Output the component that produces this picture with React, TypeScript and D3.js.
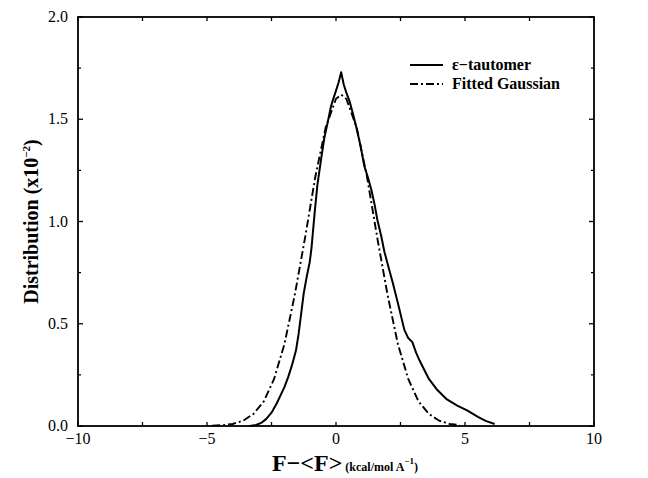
import React from "react";
import * as d3 from "d3";

// ε-tautomer distribution (x10^-2) vs F-<F>
const tautomerF = [-3.35, -3.1, -2.9, -2.7, -2.5, -2.3, -2.15, -2.0, -1.85, -1.7, -1.55, -1.45, -1.35, -1.25, -1.12, -1.02, -0.95, -0.83, -0.72, -0.56, -0.45, -0.33, -0.2, -0.13, 0.0, 0.1, 0.2, 0.3, 0.4, 0.52, 0.65, 0.79, 0.95, 1.1, 1.25, 1.38, 1.5, 1.6, 1.75, 1.88, 2.05, 2.2, 2.4, 2.65, 2.8, 2.96, 3.1, 3.24, 3.4, 3.6, 3.9, 4.3, 4.7, 5.1, 5.5, 5.8, 6.15];
const tautomerV = [0.0, 0.005, 0.015, 0.035, 0.065, 0.11, 0.15, 0.19, 0.24, 0.3, 0.37, 0.45, 0.55, 0.65, 0.74, 0.8, 0.87, 1.04, 1.18, 1.32, 1.41, 1.48, 1.56, 1.59, 1.64, 1.68, 1.73, 1.67, 1.63, 1.59, 1.53, 1.46, 1.37, 1.27, 1.21, 1.15, 1.08, 1.01, 0.93, 0.85, 0.77, 0.70, 0.6, 0.47, 0.43, 0.41, 0.36, 0.32, 0.28, 0.23, 0.18, 0.13, 0.1, 0.075, 0.045, 0.025, 0.01];

// Fitted Gaussian
const gaussF = [-4.8, -4.4, -4.0, -3.6, -3.2, -2.8, -2.4, -2.0, -1.6, -1.2, -0.8, -0.4, 0.0, 0.2, 0.4, 0.8, 1.2, 1.6, 2.0, 2.4, 2.8, 3.2, 3.6, 4.0, 4.4, 4.8];
const gaussV = [0.001, 0.004, 0.010, 0.026, 0.059, 0.12, 0.23, 0.40, 0.64, 0.92, 1.22, 1.46, 1.60, 1.62, 1.60, 1.46, 1.22, 0.92, 0.64, 0.40, 0.23, 0.12, 0.059, 0.026, 0.010, 0.004];

const xMajor = [-10, -5, 0, 5, 10];
const xMinor = [-7.5, -2.5, 2.5, 7.5];
const yMajor = [0, 0.5, 1.0, 1.5, 2.0];
const yMinor = [0.25, 0.75, 1.25, 1.75];
const legendLabels = ["\u03b5\u2212tautomer", "Fitted Gaussian"];

const FONT = "'Liberation Serif', 'DejaVu Serif', serif";

export default function App() {
  const left = 78, right = 594, top = 17, bottom = 426;
  const x = d3.scaleLinear().domain([-10, 10]).range([left, right]);
  const y = d3.scaleLinear().domain([0, 2]).range([bottom, top]);
  const line = d3.line<[number, number]>().x(d => x(d[0])).y(d => y(d[1])).curve(d3.curveLinear);
  const solid = tautomerF.map((f, i) => [f, tautomerV[i]] as [number, number]);
  const dashed = gaussF.map((f, i) => [f, gaussV[i]] as [number, number]);

  return (
    <svg width={648} height={478} style={{ position: "absolute", left: 0, top: 0, background: "#fff" }}>
      <rect x={0} y={0} width={648} height={478} fill="#fff" />
      {/* curves */}
      <path d={line(dashed) || ""} fill="none" stroke="#000" strokeWidth={1.9} strokeDasharray="8,3,2,3" />
      <path d={line(solid) || ""} fill="none" stroke="#000" strokeWidth={2} strokeLinejoin="round" />
      {/* frame */}
      <rect x={left} y={top} width={right - left} height={bottom - top} fill="none" stroke="#000" strokeWidth={1.8} />
      {/* x ticks */}
      {xMajor.concat(xMinor).map((v, i) => (
        <g key={"xt" + i}>
          <line x1={x(v)} x2={x(v)} y1={bottom} y2={bottom - 4} stroke="#000" strokeWidth={1.3} />
          <line x1={x(v)} x2={x(v)} y1={top} y2={top + 4} stroke="#000" strokeWidth={1.3} />
        </g>
      ))}
      {/* y ticks */}
      {yMajor.map((v, i) => (
        <g key={"yt" + i}>
          <line x1={left} x2={left + 5} y1={y(v)} y2={y(v)} stroke="#000" strokeWidth={1.3} />
          <line x1={right} x2={right - 5} y1={y(v)} y2={y(v)} stroke="#000" strokeWidth={1.3} />
        </g>
      ))}
      {yMinor.map((v, i) => (
        <g key={"ym" + i}>
          <line x1={left} x2={left + 3} y1={y(v)} y2={y(v)} stroke="#000" strokeWidth={1.2} />
          <line x1={right} x2={right - 3} y1={y(v)} y2={y(v)} stroke="#000" strokeWidth={1.2} />
        </g>
      ))}
      {/* tick labels */}
      {xMajor.map((v, i) => (
        <text key={"xl" + i} x={x(v)} y={bottom + 18} textAnchor="middle" fontFamily={FONT} fontSize={16}>
          {v < 0 ? "\u2212" + Math.abs(v) : String(v)}
        </text>
      ))}
      {yMajor.map((v, i) => (
        <text key={"yl" + i} x={left - 10} y={y(v) + 5} textAnchor="end" fontFamily={FONT} fontSize={16}>
          {v.toFixed(1)}
        </text>
      ))}
      {/* axis titles */}
      <text transform={`translate(38,${(top + bottom) / 2}) rotate(-90)`} textAnchor="middle" fontFamily={FONT} fontSize={20} fontWeight="bold">
        Distribution (x10<tspan dy={-8} fontSize={11}>{"\u22122"}</tspan><tspan dy={8}>)</tspan>
      </text>
      <text x={345} y={471} textAnchor="middle" fontFamily={FONT} fontWeight="bold">
        <tspan fontSize={24}>{"F\u2212<F>"}</tspan>
        <tspan fontSize={12} dx={3}>(kcal/mol A</tspan>
        <tspan fontSize={9} dy={-7}>{"\u22121"}</tspan>
        <tspan fontSize={12} dy={7}>)</tspan>
      </text>
      {/* legend */}
      <line x1={410} x2={443} y1={65} y2={65} stroke="#000" strokeWidth={2} />
      <line x1={410} x2={443} y1={84} y2={84} stroke="#000" strokeWidth={1.9} strokeDasharray="8,3,2,3" />
      {legendLabels.map((t, i) => (
        <text key={"lg" + i} x={452} y={70 + i * 19} fontFamily={FONT} fontSize={16} fontWeight="bold">{t}</text>
      ))}
    </svg>
  );
}
